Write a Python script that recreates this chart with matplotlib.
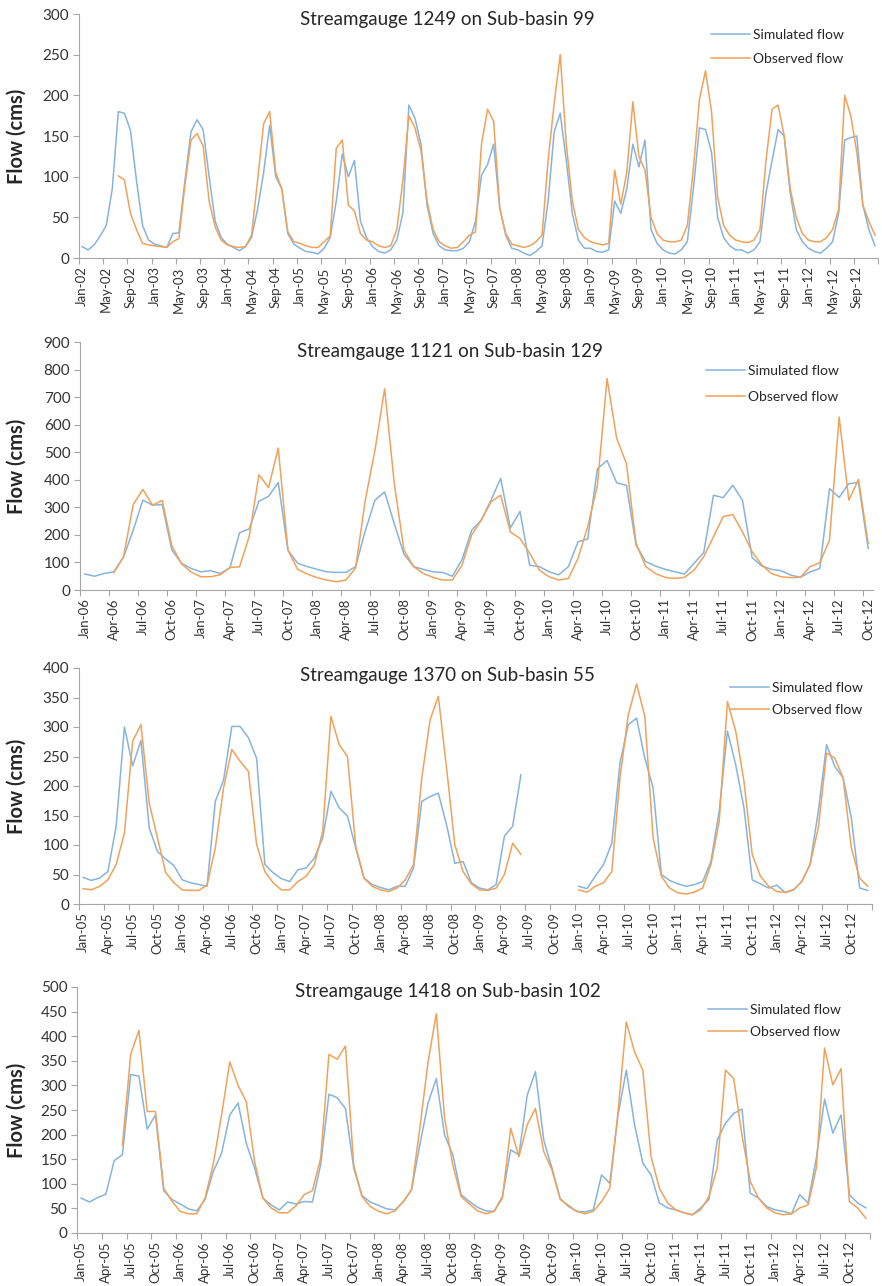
import numpy as np
import pandas as pd
import matplotlib
matplotlib.use("Agg")
import matplotlib.pyplot as plt

nan = np.nan

# Streamgauge 1249 on Sub-basin 99, monthly from Jan-02
start1 = "2002-01"
sim1 = [14, 10, 16, 27, 40, 85, 180, 178, 157, 95, 40, 22,
        17, 15, 13, 30, 31, 95, 155, 170, 158, 100, 45, 25,
        17, 13, 9, 14, 25, 60, 105, 163, 100, 85, 30, 17,
        12, 8, 7, 5, 12, 25, 70, 128, 100, 120, 45, 25,
        14, 8, 6, 10, 22, 55, 188, 172, 140, 65, 30, 15,
        10, 9, 9, 12, 20, 45, 102, 115, 140, 62, 28, 12,
        10, 6, 3, 8, 15, 70, 155, 178, 120, 55, 22, 12,
        12, 8, 7, 10, 70, 55, 85, 140, 112, 145, 35, 18,
        10, 6, 5, 10, 20, 85, 160, 158, 130, 50, 25, 15,
        10, 10, 6, 10, 20, 80, 120, 158, 150, 80, 35, 20,
        12, 8, 6, 12, 20, 55, 145, 148, 150, 65, 35, 15]
obs1 = [nan, nan, nan, nan, nan, nan, 101, 96, 55, 35, 18, 16,
        15, 14, 13, 20, 24, 90, 145, 153, 138, 70, 38, 22,
        16, 14, 13, 14, 28, 95, 165, 180, 105, 85, 32, 20,
        18, 15, 13, 13, 20, 27, 135, 145, 65, 58, 30, 22,
        20, 15, 13, 15, 35, 95, 175, 160, 132, 70, 35, 20,
        15, 12, 13, 20, 28, 32, 140, 183, 168, 62, 30, 17,
        15, 13, 15, 20, 28, 120, 190, 250, 140, 70, 35, 25,
        20, 18, 16, 18, 108, 66, 105, 192, 125, 108, 50, 30,
        22, 20, 20, 22, 40, 110, 195, 230, 180, 75, 40, 28,
        22, 20, 19, 22, 35, 120, 183, 188, 150, 85, 50, 30,
        22, 20, 20, 25, 35, 60, 200, 175, 130, 65, 45, 28]

# Streamgauge 1121 on Sub-basin 129, monthly from Jan-06
start2 = "2006-01"
sim2 = [58, 50, 60, 66, 120, 217, 326, 308, 310, 145, 97, 78,
        66, 70, 60, 80, 208, 222, 322, 340, 390, 145, 97, 85,
        75, 66, 64, 64, 85, 215, 326, 356, 240, 130, 85, 75,
        66, 64, 50, 110, 217, 254, 326, 405, 225, 285, 90, 85,
        66, 55, 85, 175, 185, 440, 470, 389, 380, 163, 103, 87,
        75, 66, 58, 97, 136, 344, 335, 380, 326, 118, 87, 75,
        70, 54, 46, 66, 78, 368, 336, 386, 390, 151]
obs2 = [nan, nan, nan, 63, 120, 310, 365, 308, 325, 160, 95, 65,
        48, 48, 55, 82, 84, 195, 418, 372, 515, 145, 75, 58,
        45, 36, 30, 36, 80, 326, 507, 730, 386, 145, 85, 60,
        46, 36, 36, 90, 200, 254, 320, 344, 211, 187, 133, 72,
        48, 36, 42, 115, 230, 380, 767, 550, 459, 169, 85, 60,
        46, 42, 46, 72, 121, 193, 266, 274, 211, 139, 91, 60,
        48, 45, 46, 85, 99, 181, 628, 326, 401, 169]

# Streamgauge 1370 on Sub-basin 55, monthly from Jan-05
start3 = "2005-01"
sim3 = [45, 40, 44, 55, 132, 300, 234, 277, 129, 89, 76, 65,
        41, 36, 33, 30, 174, 210, 301, 301, 282, 247, 67, 53,
        43, 38, 58, 61, 78, 112, 191, 163, 149, 95, 44, 33,
        28, 24, 30, 30, 61, 174, 182, 188, 134, 69, 72, 36,
        27, 24, 33, 115, 132, 219, nan, nan, nan, nan, nan, nan,
        30, 26, 47, 67, 103, 240, 304, 315, 247, 197, 50, 40,
        34, 30, 33, 38, 72, 157, 293, 236, 163, 41, 34, 27,
        32, 19, 24, 38, 67, 157, 270, 233, 214, 146, 27, 23]
obs3 = [26, 24, 30, 41, 67, 120, 276, 304, 171, 112, 53, 36,
        24, 23, 23, 32, 95, 197, 262, 242, 225, 101, 55, 36,
        24, 24, 38, 47, 67, 123, 318, 270, 250, 98, 44, 30,
        24, 21, 27, 41, 67, 214, 312, 352, 230, 100, 55, 34,
        24, 23, 27, 50, 103, 84, nan, nan, nan, nan, nan, nan,
        24, 20, 30, 36, 55, 215, 321, 373, 318, 112, 47, 27,
        19, 17, 20, 27, 67, 140, 343, 293, 208, 84, 47, 30,
        21, 20, 24, 38, 67, 129, 256, 247, 214, 95, 44, 30]

# Streamgauge 1418 on Sub-basin 102, monthly from Jan-05
start4 = "2005-01"
sim4 = [71, 63, 72, 79, 147, 159, 322, 319, 211, 240, 86, 68,
        59, 49, 45, 68, 125, 162, 240, 264, 182, 132, 71, 57,
        47, 63, 59, 64, 63, 139, 282, 275, 253, 132, 76, 63,
        56, 49, 47, 63, 88, 179, 264, 314, 199, 159, 78, 64,
        52, 45, 44, 74, 169, 159, 280, 328, 189, 132, 70, 54,
        44, 43, 47, 118, 101, 240, 331, 220, 142, 118, 61, 51,
        47, 41, 37, 51, 68, 189, 223, 243, 252, 81, 71, 54,
        47, 44, 39, 78, 61, 152, 272, 203, 240, 78, 61, 51]
obs4 = [nan, nan, nan, nan, nan, 179, 363, 412, 247, 247, 91, 64,
        44, 39, 39, 71, 140, 240, 348, 300, 267, 145, 71, 51,
        41, 41, 55, 78, 86, 152, 363, 353, 380, 138, 74, 54,
        44, 39, 45, 64, 88, 213, 348, 446, 233, 138, 74, 59,
        45, 39, 44, 71, 213, 155, 220, 253, 166, 128, 68, 56,
        44, 39, 44, 64, 91, 247, 429, 368, 331, 155, 91, 61,
        47, 41, 37, 47, 74, 132, 331, 314, 199, 105, 71, 51,
        41, 37, 39, 51, 57, 132, 376, 301, 334, 64, 51, 30]

titles = ["Streamgauge 1249 on Sub-basin 99",
          "Streamgauge 1121 on Sub-basin 129",
          "Streamgauge 1370 on Sub-basin 55",
          "Streamgauge 1418 on Sub-basin 102"]
ymaxes = [300, 900, 400, 500]
ysteps = [50, 100, 50, 50]
label_every = [4, 3, 3, 3]

BLUE = "#86B4DC"
ORANGE = "#EFA25B"
GRAY = "#A6A6A6"
TXT = "#333333"

plt.rcParams["font.family"] = ["Lato", "DejaVu Sans"]

W, H = 882, 1286
fig = plt.figure(figsize=(W / 100, H / 100), dpi=100)

# plot areas in pixels: left, top, right, bottom
boxes = [(79, 14, 878, 258), (80, 342, 873, 590),
         (79, 668, 872, 904), (77, 987, 870, 1233)]
title_pos = [(447, 19), (450, 352), (447, 676), (448, 992)]
legend_pos = [(711, 47, 0.9), (706, 384, 1.0), (730, 699, 0.7), (708, 1021, 0.75)]

series = [(sim1, obs1, start1), (sim2, obs2, start2),
          (sim3, obs3, start3), (sim4, obs4, start4)]

for i, (sim, obs, start) in enumerate(series):
    l, t, r, b = boxes[i]
    ax = fig.add_axes([l / W, 1 - b / H, (r - l) / W, (b - t) / H])
    n = len(sim)
    x = np.arange(n) + 0.5
    ax.plot(x, sim, color=BLUE, lw=1.1, label="Simulated flow")
    ax.plot(x, obs, color=ORANGE, lw=1.1, label="Observed flow")
    ax.set_xlim(0, n)
    ax.set_ylim(0, ymaxes[i])
    ax.set_yticks(np.arange(0, ymaxes[i] + 1, ysteps[i]))

    months = pd.date_range(start, periods=n, freq="MS").strftime("%b-%y").tolist()
    idx = np.arange(0, n, label_every[i])
    ax.set_xticks(idx + 0.5, [months[j] for j in idx], rotation=90)
    ax.set_xticks(np.arange(0, n + 1, label_every[i]), minor=True)
    ax.tick_params(axis="x", which="major", length=0, pad=6, labelsize=9.5, labelcolor=TXT)
    ax.tick_params(axis="x", which="minor", length=4, color=GRAY, width=0.8)
    ax.tick_params(axis="y", length=4, color=GRAY, width=0.8, pad=3,
                   labelsize=11, labelcolor=TXT)

    for s in ["top", "right"]:
        ax.spines[s].set_visible(False)
    for s in ["left", "bottom"]:
        ax.spines[s].set_color(GRAY)
        ax.spines[s].set_linewidth(0.8)

    ax.set_ylabel("Flow (cms)", fontsize=14.5, fontweight="bold", color="#262626")
    ax.yaxis.set_label_coords((27 - l) / (r - l), 0.5)

    tx, ty = title_pos[i]
    fig.text(tx / W, 1 - ty / H, titles[i], ha="center", va="center",
             fontsize=13.5, color="#262626")

    lx, ly, sp = legend_pos[i]
    ax.legend(loc="center left", bbox_to_anchor=(lx / W, 1 - ly / H),
              bbox_transform=fig.transFigure, frameon=False, fontsize=10,
              handlelength=2.8, handletextpad=0.25, labelspacing=sp,
              borderpad=0, borderaxespad=0, labelcolor="#262626")

fig.savefig("out.png", dpi=100)
